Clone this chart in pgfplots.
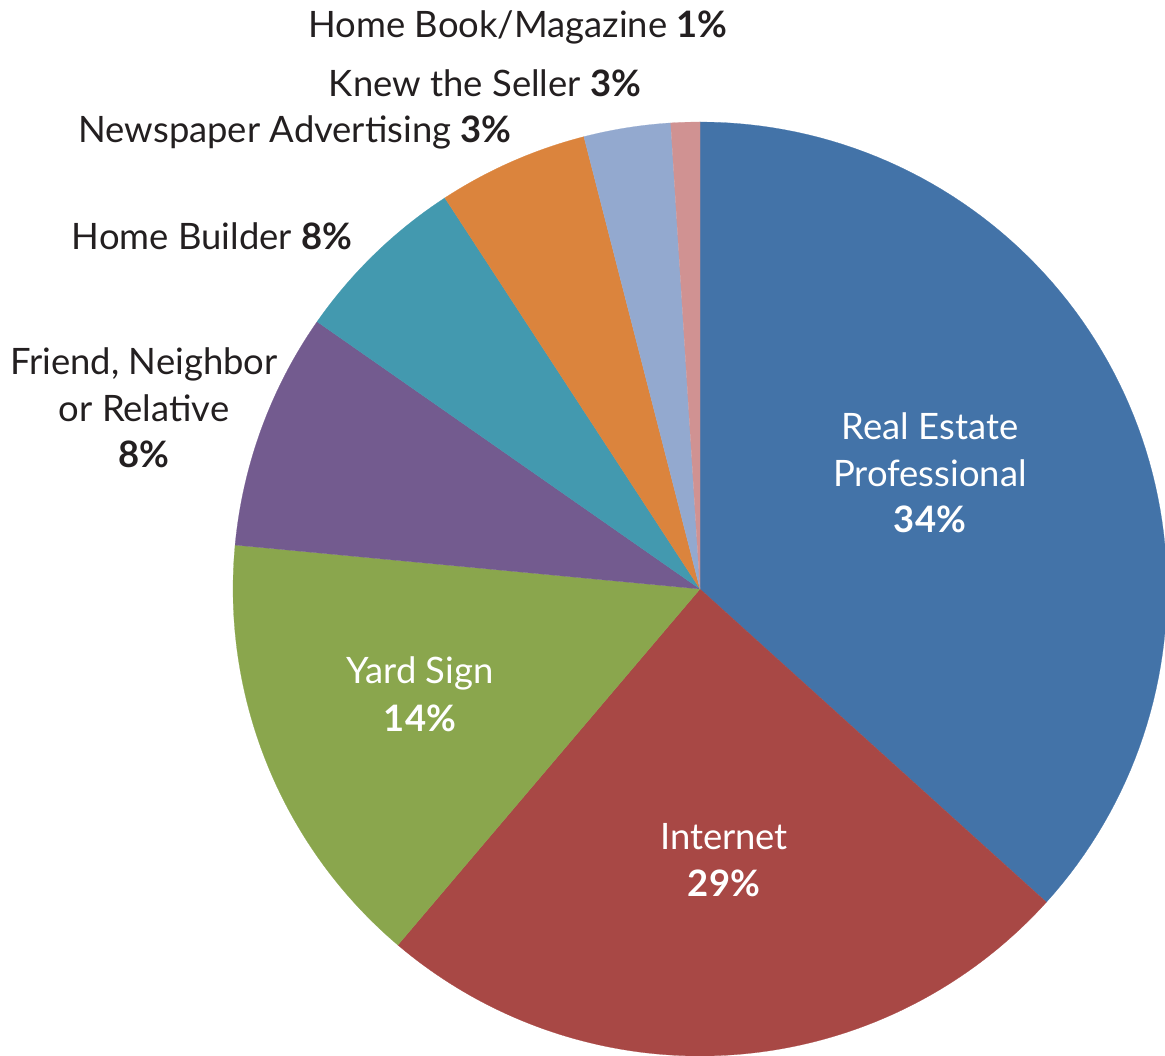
\documentclass[border=0pt]{standalone}
\usepackage{pgfplots}
\usepackage{pgfplotstable}
\pgfplotsset{compat=1.18}
\usepackage{fontspec}
\setmainfont{Lato}
\definecolor{cRE}{HTML}{4373A8}
\definecolor{cIN}{HTML}{A84845}
\definecolor{cYS}{HTML}{8AA64D}
\definecolor{cFR}{HTML}{735B8F}
\definecolor{cHB}{HTML}{4399AF}
\definecolor{cNP}{HTML}{DB843D}
\definecolor{cKS}{HTML}{93A9CF}
\definecolor{cBM}{HTML}{D09292}
\definecolor{txt}{HTML}{231F20}

% share of the circle taken by each slice (clockwise from 12 o'clock)
\pgfplotstableread{
name value color
RealEstate 36.7 cRE
Internet 24.5 cIN
YardSign 15.3 cYS
Friend 8.2 cFR
HomeBuilder 6.1 cHB
Newspaper 5.2 cNP
KnewSeller 3.0 cKS
HomeBook 1.0 cBM
}\piedata

\newcommand{\lblfont}{\fontsize{18.2}{22}\selectfont}
\newcommand{\lbl}[4]{\node[anchor=base, inner sep=0pt, text=#1, font=\lblfont] at (axis cs:#2,#3) {#4};}

\begin{document}
\begin{tikzpicture}
\begin{axis}[
  width=582.5pt, height=527.5pt, scale only axis,
  xmin=0, xmax=1165, ymin=0, ymax=1055,
  hide axis, clip=true,
]
\path (rel axis cs:0,0) rectangle (rel axis cs:1,1);
\def\cum{0}
\pgfplotsforeachungrouped \i in {0,...,7}{%
  \pgfplotstablegetelem{\i}{value}\of\piedata \let\v\pgfplotsretval
  \pgfplotstablegetelem{\i}{color}\of\piedata \let\c\pgfplotsretval
  \pgfmathsetmacro\a{\cum*3.6}%
  \pgfmathsetmacro\b{(\cum+\v)*3.6}%
  \edef\temp{\noexpand\addplot[fill=\c, draw=\c, line width=0.1pt, domain=\a:\b, samples=90]
    ({700+467*sin(x)},{466+467*cos(x)}) -- (axis cs:700,466) -- cycle;}%
  \temp
  \pgfmathsetmacro\cum{\cum+\v}%
}
% labels inside
\lbl{white}{930}{615}{Real Estate}
\lbl{white}{930}{568}{Professional}
\lbl{white}{930}{522}{\textbf{34\%}}
\lbl{white}{420}{372}{Yard Sign}
\lbl{white}{420}{324}{\textbf{14\%}}
\lbl{white}{724}{206}{Internet}
\lbl{white}{724}{159}{\textbf{29\%}}
% labels outside
\lbl{txt}{144}{680}{Friend, Neighbor}
\lbl{txt}{144}{633}{or Relative}
\lbl{txt}{144}{587}{\textbf{8\%}}
\lbl{txt}{212}{805}{Home Builder \textbf{8\%}}
\lbl{txt}{295}{912}{Newspaper Advertising \textbf{3\%}}
\lbl{txt}{485}{958}{Knew the Seller \textbf{3\%}}
\lbl{txt}{518}{1017}{Home Book/Magazine \textbf{1\%}}
\end{axis}
\end{tikzpicture}
\end{document}
